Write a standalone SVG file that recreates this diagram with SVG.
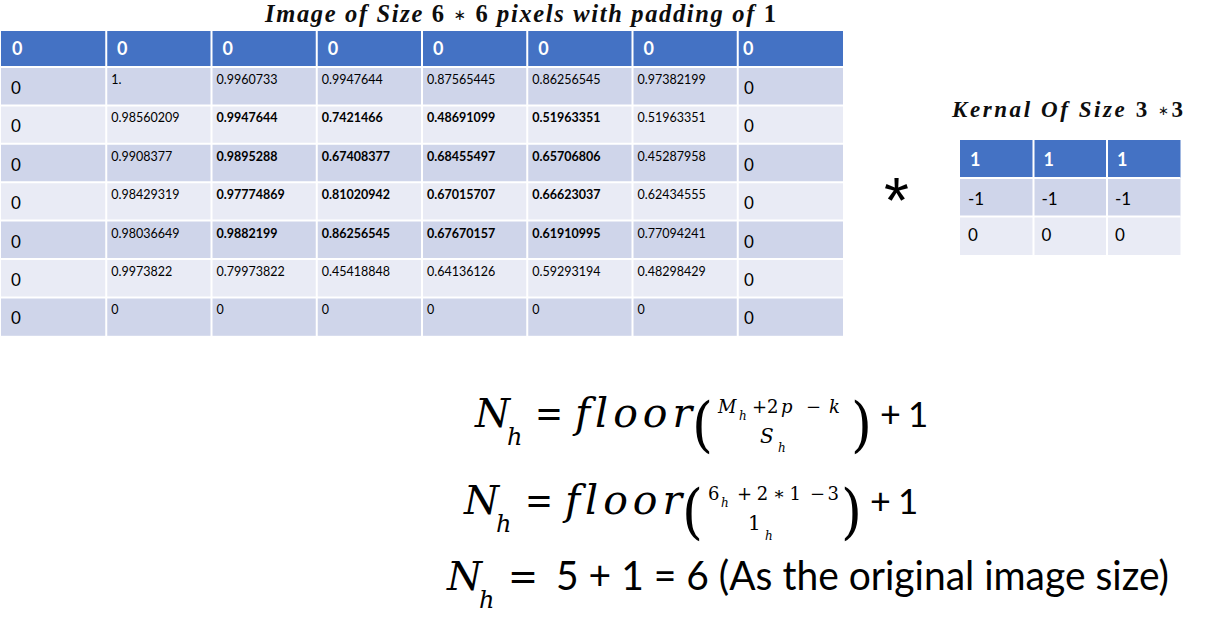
<svg xmlns="http://www.w3.org/2000/svg" width="1219" height="623" viewBox="0 0 1219 623">
<style>
.hd{fill:#4472C4}
.dk{fill:#CFD5EA}
.lt{fill:#E9EBF5}
.grid{stroke:#FFFFFF;stroke-width:2;fill:none}
.sm{font-family:Lato,"Liberation Sans",sans-serif;font-size:12.5px;fill:#000}
.smb{font-family:Lato,"Liberation Sans",sans-serif;font-size:12.5px;font-weight:bold;fill:#000}
.big{font-family:Lato,"Liberation Sans",sans-serif;font-size:17px;fill:#000}
.hz{font-family:Lato,"Liberation Sans",sans-serif;font-size:18px;font-weight:bold;fill:#FFFFFF}
.ttl{font-family:"Liberation Serif",serif;font-weight:bold;fill:#0D0D0D}
.it{font-style:italic}
.op{font-family:"DejaVu Sans",sans-serif;font-weight:normal}
.mi{font-family:"DejaVu Serif",serif;font-style:italic;fill:#000;font-variant-ligatures:none}
.mu{font-family:"DejaVu Serif",serif;fill:#000}
.sn{font-family:Lato,"Liberation Sans",sans-serif;fill:#000}
</style>
<rect width="1219" height="623" fill="#FFFFFF"/>

<g id="title">
<text class="ttl" x="265" y="22" font-size="24.5" textLength="511" lengthAdjust="spacing"><tspan class="it">Image of Size </tspan>6 <tspan class="op" font-size="15" dy="-2">∗</tspan><tspan dy="2"> 6 </tspan><tspan class="it">pixels with padding of </tspan>1</text>
</g>

<g id="image-table">
<rect class="hd" x="1" y="31" width="842" height="36"/>
<rect class="dk" x="1" y="67" width="842" height="38.4"/>
<rect class="lt" x="1" y="105.4" width="842" height="38.4"/>
<rect class="dk" x="1" y="143.8" width="842" height="38.4"/>
<rect class="lt" x="1" y="182.2" width="842" height="38.4"/>
<rect class="dk" x="1" y="220.6" width="842" height="38.4"/>
<rect class="lt" x="1" y="259" width="842" height="38.4"/>
<rect class="dk" x="1" y="297.4" width="842" height="38.4"/>
<path class="grid" d="M106.25 31V336M211.5 31V336M316.75 31V336M422 31V336M527.25 31V336M632.5 31V336M737.75 31V336M1 67H843M1 105.4H843M1 143.8H843M1 182.2H843M1 220.6H843M1 259H843M1 297.4H843"/>
<g>
<text class="hz" x="12" y="55">0</text>
<text class="hz" x="117" y="55">0</text>
<text class="hz" x="222.5" y="55">0</text>
<text class="hz" x="327.75" y="55">0</text>
<text class="hz" x="433" y="55">0</text>
<text class="hz" x="538.25" y="55">0</text>
<text class="hz" x="643.5" y="55">0</text>
<text class="hz" x="743" y="55">0</text>
</g>
<g>
<text class="big" x="11" y="94">0</text><text class="big" x="11" y="132.4">0</text><text class="big" x="11" y="170.8">0</text><text class="big" x="11" y="209.2">0</text><text class="big" x="11" y="247.6">0</text><text class="big" x="11" y="286">0</text><text class="big" x="11" y="324.4">0</text>
<text class="big" x="744" y="94">0</text><text class="big" x="744" y="132.4">0</text><text class="big" x="744" y="170.8">0</text><text class="big" x="744" y="209.2">0</text><text class="big" x="744" y="247.6">0</text><text class="big" x="744" y="286">0</text><text class="big" x="744" y="324.4">0</text>
</g>
<g>
<text class="sm" x="111.25" y="84">1.</text>
<text class="sm" x="216.5" y="84">0.9960733</text>
<text class="sm" x="321.75" y="84">0.9947644</text>
<text class="sm" x="427" y="84">0.87565445</text>
<text class="sm" x="532.25" y="84">0.86256545</text>
<text class="sm" x="637.5" y="84">0.97382199</text>

<text class="sm" x="111.25" y="122.4">0.98560209</text>
<text class="smb" x="216.5" y="122.4">0.9947644</text>
<text class="smb" x="321.75" y="122.4">0.7421466</text>
<text class="smb" x="427" y="122.4">0.48691099</text>
<text class="smb" x="532.25" y="122.4">0.51963351</text>
<text class="sm" x="637.5" y="122.4">0.51963351</text>

<text class="sm" x="111.25" y="160.8">0.9908377</text>
<text class="smb" x="216.5" y="160.8">0.9895288</text>
<text class="smb" x="321.75" y="160.8">0.67408377</text>
<text class="smb" x="427" y="160.8">0.68455497</text>
<text class="smb" x="532.25" y="160.8">0.65706806</text>
<text class="sm" x="637.5" y="160.8">0.45287958</text>

<text class="sm" x="111.25" y="199.2">0.98429319</text>
<text class="smb" x="216.5" y="199.2">0.97774869</text>
<text class="smb" x="321.75" y="199.2">0.81020942</text>
<text class="smb" x="427" y="199.2">0.67015707</text>
<text class="smb" x="532.25" y="199.2">0.66623037</text>
<text class="sm" x="637.5" y="199.2">0.62434555</text>

<text class="sm" x="111.25" y="237.6">0.98036649</text>
<text class="smb" x="216.5" y="237.6">0.9882199</text>
<text class="smb" x="321.75" y="237.6">0.86256545</text>
<text class="smb" x="427" y="237.6">0.67670157</text>
<text class="smb" x="532.25" y="237.6">0.61910995</text>
<text class="sm" x="637.5" y="237.6">0.77094241</text>

<text class="sm" x="111.25" y="276">0.9973822</text>
<text class="sm" x="216.5" y="276">0.79973822</text>
<text class="sm" x="321.75" y="276">0.45418848</text>
<text class="sm" x="427" y="276">0.64136126</text>
<text class="sm" x="532.25" y="276">0.59293194</text>
<text class="sm" x="637.5" y="276">0.48298429</text>

<text class="sm" x="111.25" y="314.4">0</text>
<text class="sm" x="216.5" y="314.4">0</text>
<text class="sm" x="321.75" y="314.4">0</text>
<text class="sm" x="427" y="314.4">0</text>
<text class="sm" x="532.25" y="314.4">0</text>
<text class="sm" x="637.5" y="314.4">0</text>
</g>
</g>

<g id="operator">
<text x="884" y="223" font-family="Liberation Sans,sans-serif" font-size="64" fill="#000">*</text>
</g>

<g id="kernel">
<text class="ttl" x="952" y="117" font-size="23" textLength="231" lengthAdjust="spacing"><tspan class="it">Kernal Of Size </tspan>3 <tspan class="op" font-size="13" dy="-2">∗</tspan><tspan dy="2">3</tspan></text>
<rect class="hd" x="960" y="140" width="220.5" height="38"/>
<rect class="dk" x="960" y="178" width="220.5" height="38.5"/>
<rect class="lt" x="960" y="216.5" width="220.5" height="38.5"/>
<path class="grid" d="M1033.5 140V255M1107 140V255M960 178H1180.5M960 216.5H1180.5"/>
<text class="hz" x="970" y="166" font-size="19">1</text>
<text class="hz" x="1043.5" y="166" font-size="19">1</text>
<text class="hz" x="1117" y="166" font-size="19">1</text>
<text class="big" x="968" y="205" font-size="17">-1</text>
<text class="big" x="1041.5" y="205" font-size="17">-1</text>
<text class="big" x="1115" y="205" font-size="17">-1</text>
<text class="big" x="968" y="241" font-size="17">0</text>
<text class="big" x="1041.5" y="241" font-size="17">0</text>
<text class="big" x="1115" y="241" font-size="17">0</text>
</g>

<g id="formula1">
<text class="mi" x="475" y="427" font-size="40">N</text>
<text class="mi" x="507" y="445" font-size="24">h</text>
<text class="mu" x="535" y="427" font-size="40" textLength="28" lengthAdjust="spacingAndGlyphs">=</text>
<text class="mi" x="575" y="427" font-size="41" textLength="117" lengthAdjust="spacing">floor</text>
<text class="mu" x="692" y="445" font-size="60" textLength="21" lengthAdjust="spacingAndGlyphs">(</text>
<text class="mi" x="718" y="413" font-size="18">M</text>
<text class="mi" x="739" y="420" font-size="12">h</text>
<text class="mu" x="752" y="413" font-size="18">+2</text>
<text class="mi" x="781" y="413" font-size="18">p</text>
<text class="mu" x="806" y="413" font-size="18">−</text>
<text class="mi" x="829" y="413" font-size="18">k</text>
<text class="mi" x="760" y="443" font-size="20">S</text>
<text class="mi" x="778" y="452" font-size="12">h</text>
<text class="mu" x="851" y="445" font-size="60" textLength="21" lengthAdjust="spacingAndGlyphs">)</text>
<text class="sn" x="880" y="427" font-size="36">+</text>
<text class="sn" x="908" y="427" font-size="35">1</text>
</g>

<g id="formula2">
<text class="mi" x="464" y="514" font-size="40">N</text>
<text class="mi" x="496" y="532" font-size="24">h</text>
<text class="mu" x="525" y="514" font-size="40" textLength="28" lengthAdjust="spacingAndGlyphs">=</text>
<text class="mi" x="565" y="514" font-size="41" textLength="117" lengthAdjust="spacing">floor</text>
<text class="mu" x="682" y="532" font-size="60" textLength="21" lengthAdjust="spacingAndGlyphs">(</text>
<text class="mu" x="708" y="500" font-size="18">6</text>
<text class="mi" x="721" y="507" font-size="12">h</text>
<text class="mu" x="737" y="500" font-size="18" textLength="64" lengthAdjust="spacing">+2∗1</text>
<text class="mu" x="810" y="500" font-size="18" textLength="29" lengthAdjust="spacing">−3</text>
<text class="mu" x="748" y="530" font-size="20">1</text>
<text class="mi" x="765" y="540" font-size="12">h</text>
<text class="mu" x="841" y="532" font-size="60" textLength="21" lengthAdjust="spacingAndGlyphs">)</text>
<text class="sn" x="870" y="514" font-size="36">+</text>
<text class="sn" x="898" y="514" font-size="35">1</text>
</g>

<g id="formula3">
<text class="mi" x="447" y="590" font-size="40">N</text>
<text class="mi" x="479" y="608" font-size="24">h</text>
<text class="mu" x="508" y="590" font-size="40" textLength="30" lengthAdjust="spacingAndGlyphs">=</text>
<text class="sn" x="556" y="590" font-size="41" textLength="613" lengthAdjust="spacingAndGlyphs">5 + 1 = 6 (As the original image size)</text>
</g>
</svg>
